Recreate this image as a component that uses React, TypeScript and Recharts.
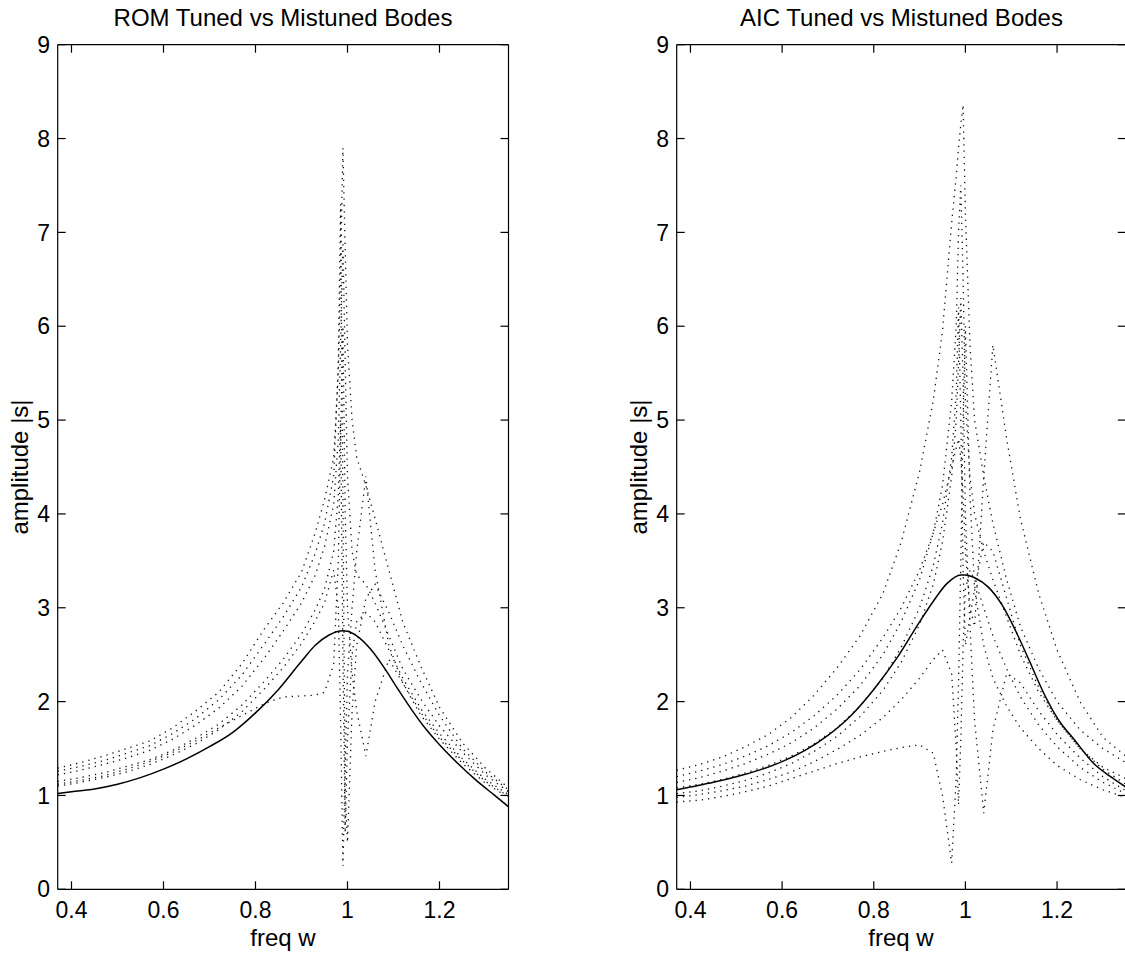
import React from "react";
import { LineChart, Line, XAxis, YAxis } from "recharts";

const FONT = '"Liberation Sans", Arial, Helvetica, sans-serif';

// axis ticks
const X_TICKS = [0.4, 0.6, 0.8, 1, 1.2];
const Y_TICKS = [0, 1, 2, 3, 4, 5, 6, 7, 8, 9];

// tuned bode (solid line) frequencies
const TUNED_W = [
    0.37, 0.4, 0.45, 0.5, 0.55, 0.6, 0.65, 0.7, 0.75, 0.8, 0.85, 0.9, 0.93, 0.96,
    0.99, 1.0, 1.02, 1.05, 1.08, 1.11, 1.14, 1.17, 1.2, 1.24, 1.28, 1.32, 1.35,
];
const ROM_TUNED = [
    1.02, 1.04, 1.07, 1.12, 1.19, 1.28, 1.39, 1.52, 1.67, 1.88, 2.13, 2.43, 2.6, 2.71,
    2.755, 2.75, 2.7, 2.56, 2.36, 2.13, 1.91, 1.71, 1.54, 1.34, 1.16, 1.0, 0.88,
];
const AIC_TUNED = [
    1.06, 1.09, 1.14, 1.2, 1.27, 1.36, 1.48, 1.64, 1.85, 2.13, 2.46, 2.85, 3.07, 3.26,
    3.35, 3.35, 3.32, 3.22, 3.03, 2.75, 2.43, 2.1, 1.83, 1.58, 1.34, 1.19, 1.09,
];

// mistuned bodes (dotted) frequencies
const MIS_W = [
    0.37, 0.42, 0.47, 0.52, 0.57, 0.62, 0.67, 0.72, 0.77, 0.82, 0.86, 0.9, 0.93, 0.95,
    0.97, 0.98, 0.985, 0.99, 0.995, 1.0, 1.01, 1.02, 1.04, 1.06, 1.09, 1.12, 1.16,
    1.2, 1.25, 1.3, 1.35,
];

const ROM_M1 = [1.29, 1.35, 1.42, 1.5, 1.58, 1.72, 1.9, 2.1, 2.4, 2.78, 3.05, 3.38, 3.8, 4.15, 4.6, 5.5, 6.6, 7.9, 6.8, 5.8, 5.0, 4.6, 4.3, 3.95, 3.4, 2.85, 2.37, 1.94, 1.56, 1.29, 1.08];
const ROM_M2 = [1.22, 1.27, 1.33, 1.4, 1.48, 1.6, 1.75, 1.93, 2.16, 2.47, 2.75, 3.05, 3.35, 3.65, 4.1, 4.8, 5.8, 6.9, 5.6, 4.4, 3.6, 3.35, 3.25, 3.05, 2.7, 2.35, 2.02, 1.74, 1.46, 1.22, 1.04];
const ROM_M3 = [1.15, 1.19, 1.24, 1.31, 1.38, 1.48, 1.61, 1.76, 1.96, 2.22, 2.45, 2.72, 2.98, 3.2, 3.6, 4.2, 5.0, 2.5, 0.6, 1.6, 2.5, 2.85, 2.95, 2.85, 2.55, 2.25, 1.92, 1.66, 1.39, 1.17, 1.01];
const ROM_M4 = [1.1, 1.14, 1.19, 1.25, 1.33, 1.43, 1.55, 1.7, 1.89, 2.14, 2.36, 2.62, 2.86, 3.05, 3.4, 3.0, 1.8, 0.25, 1.3, 2.3, 3.0, 3.6, 4.4, 3.4, 2.6, 2.2, 1.85, 1.6, 1.34, 1.13, 0.98];
const ROM_M5 = [1.12, 1.16, 1.21, 1.28, 1.36, 1.46, 1.58, 1.72, 1.85, 1.98, 2.05, 2.06, 2.07, 2.1, 2.4, 3.5, 4.8, 6.0, 4.0, 3.0, 2.3, 1.9, 1.42, 2.0, 2.45, 2.2, 1.88, 1.62, 1.37, 1.15, 0.99];
const ROM_M6 = [1.26, 1.31, 1.37, 1.45, 1.53, 1.66, 1.82, 2.02, 2.28, 2.62, 2.9, 3.22, 3.58, 3.9, 4.4, 5.6, 7.3, 4.2, 1.0, 0.5, 1.9, 2.6, 3.1, 3.25, 2.95, 2.6, 2.2, 1.85, 1.5, 1.25, 1.06];

const AIC_A1 = [1.27, 1.33, 1.41, 1.52, 1.65, 1.83, 2.07, 2.36, 2.7, 3.15, 3.7, 4.45, 5.21, 5.95, 7.1, 7.6, 7.9, 8.15, 8.36, 7.2, 5.8, 5.0, 4.4, 3.9, 3.3, 2.8, 2.35, 2.0, 1.7, 1.5, 1.35];
const AIC_A2 = [1.2, 1.26, 1.33, 1.42, 1.53, 1.67, 1.85, 2.07, 2.34, 2.68, 3.0, 3.4, 3.8, 4.1, 4.5, 4.7, 4.8, 4.6, 4.2, 3.6, 3.0, 2.8, 4.4, 5.8, 4.8, 3.95, 3.15, 2.55, 2.0, 1.62, 1.42];
const AIC_A3 = [0.93, 0.95, 0.99, 1.04, 1.1, 1.18, 1.26, 1.34, 1.41, 1.47, 1.51, 1.54, 1.45, 1.0, 0.28, 1.2, 2.2, 3.5, 5.0, 6.0, 4.2, 3.2, 2.6, 2.25, 1.95, 1.72, 1.5, 1.32, 1.17, 1.06, 0.98];
const AIC_A4 = [1.02, 1.05, 1.1, 1.16, 1.24, 1.34, 1.47, 1.63, 1.84, 2.12, 2.42, 2.82, 3.25, 3.7, 4.4, 5.0, 5.6, 6.3, 5.4, 4.0, 2.8, 1.8, 0.81, 1.7, 2.3, 2.2, 1.9, 1.65, 1.4, 1.2, 1.05];
const AIC_A5 = [1.14, 1.19, 1.26, 1.34, 1.44, 1.56, 1.72, 1.92, 2.17, 2.5, 2.85, 3.3, 3.8, 4.3, 5.2, 6.0, 7.0, 7.5, 6.5, 5.2, 4.4, 4.0, 3.6, 3.3, 2.9, 2.5, 2.1, 1.8, 1.5, 1.3, 1.18];
const AIC_A6 = [0.98, 1.01, 1.05, 1.1, 1.17, 1.25, 1.36, 1.49, 1.64, 1.83, 2.02, 2.25, 2.45, 2.55, 2.3, 1.5, 0.9, 1.6, 2.6, 3.2, 3.4, 3.3, 3.0, 2.7, 2.35, 2.05, 1.75, 1.52, 1.3, 1.14, 1.02];
const AIC_A7 = [1.08, 1.12, 1.17, 1.24, 1.32, 1.42, 1.55, 1.72, 1.95, 2.25, 2.58, 3.0, 3.45, 3.9, 4.6, 5.3, 6.2, 5.0, 3.4, 2.6, 2.9, 3.2, 3.7, 3.6, 3.1, 2.6, 2.15, 1.8, 1.5, 1.28, 1.12];

const toRows = (w: number[], v: number[]) => w.map((f, i) => ({ f, v: v[i] }));

type PanelProps = {
    left: number;
    leftAxisW: number;
    rightAxisW: number;
    tuned: number[];
    mistuned: number[][];
};

const tickStyle = { fill: "#000", fontSize: 23, fontFamily: FONT };

const Panel = ({ left, leftAxisW, rightAxisW, tuned, mistuned }: PanelProps) => {
    return (
        <div style={{ position: "absolute", left, top: 0 }}>
            <LineChart
                width={560}
                height={957}
                margin={{ top: 0, right: 0, bottom: 0, left: 0 }}
            >
                <XAxis
                    xAxisId="b"
                    dataKey="f"
                    type="number"
                    orientation="bottom"
                    domain={[0.37, 1.35]}
                    ticks={X_TICKS}
                    interval={0}
                    height={67.7}
                    stroke="#000"
                    strokeWidth={1.2}
                    tickSize={-8}
                    tickMargin={20.7}
                    tick={tickStyle}
                    allowDataOverflow
                />
                <XAxis
                    xAxisId="t"
                    dataKey="f"
                    type="number"
                    orientation="top"
                    domain={[0.37, 1.35]}
                    ticks={X_TICKS}
                    interval={0}
                    height={44.7}
                    stroke="#000"
                    strokeWidth={1.2}
                    tickSize={-8}
                    tickFormatter={() => ""}
                    allowDataOverflow
                />
                <YAxis
                    yAxisId="l"
                    type="number"
                    domain={[0, 9]}
                    ticks={Y_TICKS}
                    interval={0}
                    width={leftAxisW}
                    stroke="#000"
                    strokeWidth={1.2}
                    tickSize={-8}
                    tickMargin={15.6}
                    tick={tickStyle}
                    allowDataOverflow
                />
                <YAxis
                    yAxisId="r"
                    orientation="right"
                    type="number"
                    domain={[0, 9]}
                    ticks={Y_TICKS}
                    interval={0}
                    width={rightAxisW}
                    stroke="#000"
                    strokeWidth={1.2}
                    tickSize={-8}
                    tickFormatter={() => ""}
                    allowDataOverflow
                />

                {mistuned.map((vals, i) => (
                    <Line
                        key={"m" + i}
                        xAxisId="b"
                        yAxisId="l"
                        data={toRows(MIS_W, vals)}
                        dataKey="v"
                        type="linear"
                        stroke="#111"
                        strokeWidth={1.3}
                        strokeDasharray="1.3 5"
                        dot={false}
                        isAnimationActive={false}
                    />
                ))}

                <Line
                    xAxisId="b"
                    yAxisId="l"
                    data={toRows(TUNED_W, tuned)}
                    dataKey="v"
                    type="monotone"
                    stroke="#000"
                    strokeWidth={1.5}
                    dot={false}
                    isAnimationActive={false}
                />
            </LineChart>
        </div>
    );
};

export default function App() {
    return (
        <div
            style={{
                position: "absolute",
                left: 0,
                top: 0,
                width: 1125,
                height: 957,
                overflow: "hidden",
                background: "#fff",
            }}
        >
            <Panel
                left={0}
                leftAxisW={57.7}
                rightAxisW={51.5}
                tuned={ROM_TUNED}
                mistuned={[ROM_M1, ROM_M2, ROM_M3, ROM_M4, ROM_M5, ROM_M6]}
            />
            <Panel
                left={600}
                leftAxisW={76.7}
                rightAxisW={34.2}
                tuned={AIC_TUNED}
                mistuned={[AIC_A1, AIC_A2, AIC_A3, AIC_A4, AIC_A5, AIC_A6, AIC_A7]}
            />

            {/* titles and axis labels */}
            <svg
                width={1125}
                height={957}
                style={{ position: "absolute", left: 0, top: 0, pointerEvents: "none" }}
                fontFamily={FONT}
                fontSize={24}
                fill="#000"
            >
                <text x={283} y={26} textAnchor="middle">ROM Tuned vs Mistuned Bodes</text>
                <text x={901.5} y={26} textAnchor="middle">AIC Tuned vs Mistuned Bodes</text>
                <text x={283} y={945.7} textAnchor="middle">freq w</text>
                <text x={901} y={945.7} textAnchor="middle">freq w</text>
                <text transform="translate(28,467) rotate(-90)" textAnchor="middle">amplitude |s|</text>
                <text transform="translate(647,467) rotate(-90)" textAnchor="middle">amplitude |s|</text>
            </svg>
        </div>
    );
}
